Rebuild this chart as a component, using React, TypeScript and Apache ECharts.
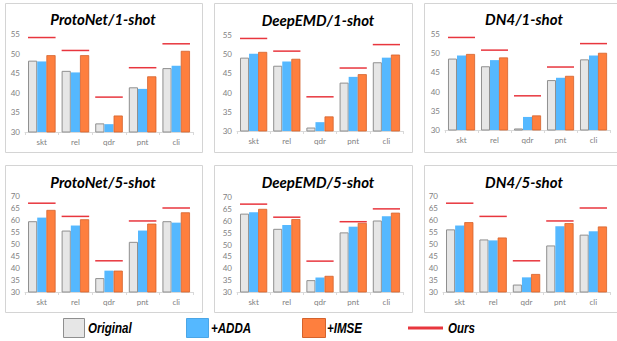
import React, { useEffect, useRef } from "react";
import * as echarts from "echarts";

const categories = ["skt", "rel", "qdr", "pnt", "cli"];

const ours1Shot = [54.1, 50.8, 38.9, 46.4, 52.5];
const ours5Shot = [67.0, 61.5, 43.0, 59.6, 65.0];

const protoNet1Original = [48.2, 45.6, 32.2, 41.4, 46.3];
const protoNet1Adda = [48.0, 45.2, 32.0, 41.0, 46.9];
const protoNet1Imse = [49.6, 49.6, 34.2, 44.2, 50.7];

const deepEmd1Original = [49.1, 47.0, 30.9, 42.6, 47.9];
const deepEmd1Adda = [50.1, 48.1, 32.3, 44.1, 49.1];
const deepEmd1Imse = [50.6, 48.8, 33.8, 44.8, 49.9];

const dn41Original = [48.6, 46.6, 30.4, 43.0, 48.4];
const dn41Adda = [49.4, 48.2, 33.4, 43.6, 49.4];
const dn41Imse = [49.8, 48.9, 33.8, 44.1, 50.1];

const protoNet5Original = [59.5, 55.6, 35.8, 50.9, 59.5];
const protoNet5Adda = [61.0, 57.7, 38.9, 55.6, 58.9];
const protoNet5Imse = [64.2, 60.3, 38.9, 58.5, 63.2];

const deepEmd5Original = [63.0, 56.6, 35.0, 55.1, 60.1];
const deepEmd5Adda = [63.6, 58.2, 36.1, 57.5, 61.9];
const deepEmd5Imse = [65.0, 60.7, 36.8, 59.1, 63.4];

const dn45Original = [56.1, 51.9, 33.1, 49.4, 53.9];
const dn45Adda = [57.7, 51.5, 36.1, 57.4, 55.3];
const dn45Imse = [59.1, 52.7, 37.5, 58.7, 57.3];

const seriesNames = ["Original", "+ADDA", "+IMSE", "Ours"];

const panels = [
  { title: "ProtoNet/1-shot", original: protoNet1Original, adda: protoNet1Adda, imse: protoNet1Imse, ours: ours1Shot, max: 55 },
  { title: "DeepEMD/1-shot", original: deepEmd1Original, adda: deepEmd1Adda, imse: deepEmd1Imse, ours: ours1Shot, max: 55 },
  { title: "DN4/1-shot", original: dn41Original, adda: dn41Adda, imse: dn41Imse, ours: ours1Shot, max: 55 },
  { title: "ProtoNet/5-shot", original: protoNet5Original, adda: protoNet5Adda, imse: protoNet5Imse, ours: ours5Shot, max: 70 },
  { title: "DeepEMD/5-shot", original: deepEmd5Original, adda: deepEmd5Adda, imse: deepEmd5Imse, ours: ours5Shot, max: 70 },
  { title: "DN4/5-shot", original: dn45Original, adda: dn45Adda, imse: dn45Imse, ours: ours5Shot, max: 70 },
];

// layout (pixels)
const gridLayout = [
  { left: 25, top: 34, width: 168, height: 98 },
  { left: 237, top: 35, width: 166, height: 96 },
  { left: 445, top: 34, width: 165, height: 96 },
  { left: 25, top: 196, width: 168, height: 96 },
  { left: 237, top: 197, width: 166, height: 95 },
  { left: 443, top: 196, width: 167, height: 96 },
];
const boxLayout = [
  { x: 5.5, y: 3.5, width: 197, height: 149 },
  { x: 214.5, y: 3.5, width: 198, height: 149 },
  { x: 424.5, y: 3.5, width: 200, height: 149 },
  { x: 5.5, y: 165.5, width: 197, height: 147 },
  { x: 214.5, y: 165.5, width: 198, height: 147 },
  { x: 424.5, y: 165.5, width: 200, height: 147 },
];
const titleLayout = [
  [103, 19], [318, 20], [524, 19], [103, 182], [318, 182], [524, 182],
];

const COLORS = {
  original: "#e6e6e6",
  originalBorder: "#8f8f8f",
  adda: "#55b8ff",
  imse: "#fe7f3e",
  imseBorder: "#d4622c",
  ours: "#e8363e",
  axis: "#d9d9d9",
  label: "#7f7f7f",
  box: "#d4d4d4",
};

const LEGEND_FONT = "italic bold 15px 'Liberation Sans', Arial, sans-serif";
const TITLE_FONT = "italic bold 15px Lato, 'Open Sans', sans-serif";

export default function App() {
  const ref = useRef<HTMLDivElement>(null);

  useEffect(() => {
    if (!ref.current) return;
    const chart = echarts.init(ref.current, undefined, { renderer: "svg" });

    const grid: any[] = [];
    const xAxis: any[] = [];
    const yAxis: any[] = [];
    const series: any[] = [];
    const graphic: any[] = [];

    panels.forEach((p, i) => {
      grid.push({ ...gridLayout[i], containLabel: false });
      xAxis.push({
        type: "category",
        gridIndex: i,
        data: categories,
        boundaryGap: true,
        axisLine: { show: true, lineStyle: { color: COLORS.axis, width: 1 } },
        axisTick: { show: true, length: 3, lineStyle: { color: COLORS.axis } },
        axisLabel: { color: COLORS.label, fontSize: 8, margin: 6, fontFamily: "Lato, sans-serif" },
        splitLine: { show: false },
      });
      yAxis.push({
        type: "value",
        gridIndex: i,
        min: 30,
        max: p.max,
        interval: 5,
        axisLine: { show: false },
        axisTick: { show: false },
        splitLine: { show: false },
        axisLabel: { color: COLORS.label, fontSize: 8, margin: 5, fontFamily: "Lato, sans-serif" },
      });
      const common = {
        type: "bar",
        xAxisIndex: i,
        yAxisIndex: i,
        barGap: "0%",
        barCategoryGap: "18%",
      };
      series.push({
        ...common,
        name: seriesNames[0],
        data: p.original,
        itemStyle: { color: COLORS.original, borderColor: COLORS.originalBorder, borderWidth: 1 },
      });
      series.push({
        ...common,
        name: seriesNames[1],
        data: p.adda,
        itemStyle: { color: COLORS.adda },
      });
      series.push({
        ...common,
        name: seriesNames[2],
        data: p.imse,
        itemStyle: { color: COLORS.imse, borderColor: COLORS.imseBorder, borderWidth: 0.8 },
      });
      series.push({
        type: "custom",
        name: seriesNames[3],
        xAxisIndex: i,
        yAxisIndex: i,
        encode: { x: 0, y: 1 },
        data: p.ours.map((v, k) => [k, v]),
        z: 5,
        renderItem: (params: any, api: any) => {
          const pt = api.coord([api.value(0), api.value(1)]);
          const bw = api.size([1, 0])[0] * 0.82;
          return {
            type: "line",
            shape: { x1: pt[0] - bw / 2, y1: pt[1], x2: pt[0] + bw / 2, y2: pt[1] },
            style: { stroke: COLORS.ours, lineWidth: 1.5 },
          };
        },
      });

      graphic.push({
        type: "rect",
        shape: boxLayout[i],
        style: { fill: "none", stroke: COLORS.box, lineWidth: 1 },
        silent: true,
        z: -1,
      });
      graphic.push({
        type: "text",
        x: titleLayout[i][0],
        y: titleLayout[i][1],
        style: {
          text: p.title,
          font: TITLE_FONT,
          fill: "#000",
          textAlign: "center",
          textVerticalAlign: "middle",
          align: "center",
          verticalAlign: "middle",
        },
      });
    });

    // legend
    const legendY = 328;
    const legendItems = [
      { kind: "rect", x: 63, w: 21, fill: COLORS.original, stroke: COLORS.originalBorder, textX: 88, label: seriesNames[0] },
      { kind: "rect", x: 186, w: 22, fill: COLORS.adda, stroke: "#4ba6e6", textX: 211, label: seriesNames[1] },
      { kind: "rect", x: 302, w: 23, fill: COLORS.imse, stroke: COLORS.imseBorder, textX: 327, label: seriesNames[2] },
      { kind: "line", x: 408, w: 35, fill: COLORS.ours, stroke: COLORS.ours, textX: 448, label: seriesNames[3] },
    ];
    legendItems.forEach((it) => {
      if (it.kind === "rect") {
        graphic.push({
          type: "rect",
          shape: { x: it.x + 0.5, y: legendY - 9.5, width: it.w, height: 19 },
          style: { fill: it.fill, stroke: it.stroke, lineWidth: 1 },
        });
      } else {
        graphic.push({
          type: "line",
          shape: { x1: it.x, y1: legendY, x2: it.x + it.w, y2: legendY },
          style: { stroke: it.stroke, lineWidth: 3 },
        });
      }
      graphic.push({
        type: "text",
        x: it.textX,
        y: legendY,
        scaleX: 0.77,
        style: {
          text: it.label,
          font: LEGEND_FONT,
          fill: "#000",
          textAlign: "left",
          textVerticalAlign: "middle",
          align: "left",
          verticalAlign: "middle",
        },
      });
    });

    chart.setOption({
      animation: false,
      backgroundColor: "#ffffff",
      grid,
      xAxis,
      yAxis,
      series,
      graphic,
    });

    return () => {
      chart.dispose();
    };
  }, []);

  return (
    <div
      ref={ref}
      style={{ position: "fixed", left: 0, top: 0, width: 617, height: 341, background: "#fff" }}
    />
  );
}
